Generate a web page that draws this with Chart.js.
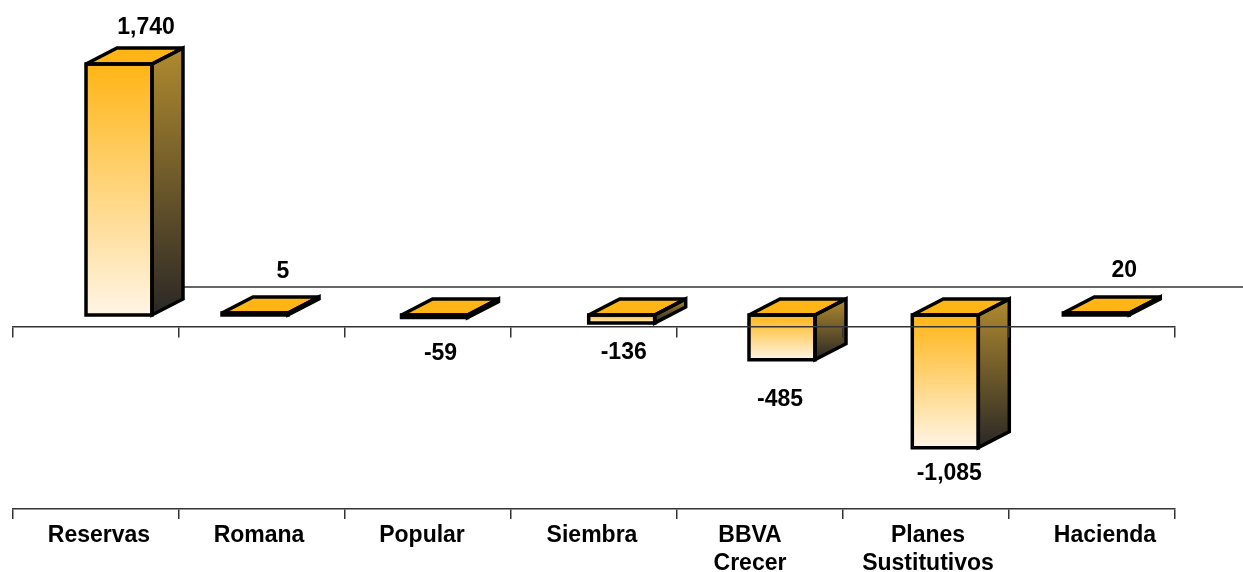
<!DOCTYPE html>
<html>
<head>
<meta charset="utf-8">
<title>Chart</title>
<script src="https://cdn.jsdelivr.net/npm/chart.js@4"></script>
<style>
  html, body { margin: 0; padding: 0; background: #fff; }
  canvas { display: block; }
</style>
</head>
<body>
<canvas id="barChart" width="1243" height="572"></canvas>
<script>
// DATA
const categories = ['Reservas', 'Romana', 'Popular', 'Siembra', ['BBVA', 'Crecer'], ['Planes', 'Sustitutivos'], 'Hacienda'];
const values = [1740, 5, -59, -136, -485, -1085, 20];

// the original bars are not proportional to their printed values,
// a power axis follows the drawn lengths without changing the numbers
const AXIS_POWER = 1.35;
const warp = v => Math.sign(v) * Math.pow(Math.abs(v), AXIS_POWER);

class PowerScale extends Chart.LinearScale {
  getPixelForValue(value) {
    if (value === null) return NaN;
    const lo = warp(this.min);
    return this.getPixelForDecimal((warp(value) - lo) / (warp(this.max) - lo));
  }
}
PowerScale.id = 'power';
PowerScale.defaults = Chart.LinearScale.defaults;
Chart.register(PowerScale);

// the bars and labels were placed by hand in the original, these are px nudges
const barNudge = [23, -7, 6.5, 27.7, 22, 19.3, 4.3];
const categoryNudge = [3, -3, -6, -2, -10, 2, 13];
const labelDx = [27, 28, 6, 2, -2, 4, 28];
const labelDy = [-36, -41, 36, 30, 40, 26, -42];

const DEPTH_X = 31;
const DEPTH_Y = 16;
const WALL_Y = 287;
const WALL_LEFT = 183;
const FONT = 'bold 23px "Liberation Sans"';
const LINE_COLOR = '#333';

function polygon(ctx, pts) {
  ctx.beginPath();
  pts.forEach(([x, y], i) => (i ? ctx.lineTo(x, y) : ctx.moveTo(x, y)));
  ctx.closePath();
}

function barFaces(bar) {
  const left = bar.x - bar.width / 2;
  const right = bar.x + bar.width / 2;
  const top = Math.min(bar.y, bar.base);
  const bottom = Math.max(bar.y, bar.base);
  return {
    top, bottom, right,
    front: [[left, top], [right, top], [right, bottom], [left, bottom]],
    lid: [[left, top], [left + DEPTH_X, top - DEPTH_Y], [right + DEPTH_X, top - DEPTH_Y], [right, top]],
    side: [[right, top], [right + DEPTH_X, top - DEPTH_Y], [right + DEPTH_X, bottom - DEPTH_Y], [right, bottom]]
  };
}

const box3d = {
  id: 'box3d',
  afterDatasetsUpdate(chart) {
    chart.getDatasetMeta(0).data.forEach((bar, i) => { bar.x += barNudge[i]; });
  },
  beforeDraw(chart) {
    chart.scales.x.getLabelItems().forEach((item, i) => { item.options.translation[0] += categoryNudge[i]; });
  },
  beforeDatasetsDraw(chart) {
    const { ctx } = chart;
    ctx.save();
    ctx.strokeStyle = LINE_COLOR;
    ctx.lineWidth = 1.5;
    ctx.beginPath();
    ctx.moveTo(WALL_LEFT, WALL_Y);
    ctx.lineTo(chart.width, WALL_Y);
    ctx.stroke();

    chart.getDatasetMeta(0).data.forEach(bar => {
      const f = barFaces(bar);
      const shade = ctx.createLinearGradient(0, f.top - DEPTH_Y, 0, f.bottom);
      shade.addColorStop(0, '#B08A2E');
      shade.addColorStop(1, '#2A2826');
      ctx.fillStyle = shade;
      polygon(ctx, f.side);
      ctx.fill();
      ctx.fillStyle = '#FFB515';
      polygon(ctx, f.lid);
      ctx.fill();
    });
    ctx.restore();
  },
  afterDatasetsDraw(chart) {
    const { ctx } = chart;
    ctx.save();
    ctx.strokeStyle = '#000';
    ctx.lineWidth = 3.5;
    ctx.lineJoin = 'miter';
    ctx.miterLimit = 3;
    chart.getDatasetMeta(0).data.forEach((bar, i) => {
      const f = barFaces(bar);
      [f.side, f.lid, f.front].forEach(face => {
        polygon(ctx, face);
        ctx.stroke();
      });
      ctx.fillStyle = '#000';
      ctx.font = FONT;
      ctx.textAlign = 'center';
      ctx.textBaseline = 'middle';
      const tip = values[i] < 0 ? f.bottom : f.top;
      ctx.fillText(values[i].toLocaleString('en-US'), bar.x + labelDx[i], tip + labelDy[i]);
    });
    ctx.restore();
  }
};

const frontGradient = context => {
  const yScale = context.chart.scales.y;
  const v = values[context.dataIndex];
  if (!yScale || v === undefined) return '#FFB515';
  const y0 = yScale.getPixelForValue(Math.max(v, 0));
  const y1 = yScale.getPixelForValue(Math.min(v, 0));
  if (!isFinite(y0) || !isFinite(y1)) return '#FFB515';
  const g = context.chart.ctx.createLinearGradient(0, y0, 0, y1);
  g.addColorStop(0, '#FFB515');
  g.addColorStop(1, '#FFF5E6');
  return g;
};

const axisLine = { color: LINE_COLOR, width: 1.5 };

new Chart(document.getElementById('barChart').getContext('2d'), {
  type: 'bar',
  data: {
    labels: categories,
    datasets: [{
      data: values,
      backgroundColor: frontGradient,
      borderWidth: 0,
      barThickness: 66,
      minBarLength: 2
    }]
  },
  plugins: [box3d],
  options: {
    responsive: false,
    animation: false,
    layout: { padding: { left: 13, right: 68, top: 64, bottom: 0 } },
    plugins: { legend: { display: false }, tooltip: { enabled: false } },
    scales: {
      x: {
        type: 'category',
        offset: true,
        border: axisLine,
        grid: { drawOnChartArea: false, color: LINE_COLOR, lineWidth: 1.5, tickLength: 10, offset: true },
        ticks: {
          autoSkip: false,
          maxRotation: 0,
          padding: 3,
          color: '#000',
          font: { family: '"Liberation Sans"', size: 23, weight: 'bold', lineHeight: 1.2 }
        },
        afterFit: scale => { scale.height = 63; }
      },
      // the line the bars hang from, it passes in front of the boxes
      x2: {
        type: 'category',
        offset: true,
        position: { y: -183 },
        border: { color: LINE_COLOR, width: 1.5, z: 1 },
        grid: { drawOnChartArea: false, color: LINE_COLOR, lineWidth: 1.5, tickLength: 10, offset: true, z: 1 },
        ticks: { display: false }
      },
      y: {
        type: 'power',
        display: false,
        min: -1438,
        max: 1740
      }
    }
  }
});
</script>
</body>
</html>
